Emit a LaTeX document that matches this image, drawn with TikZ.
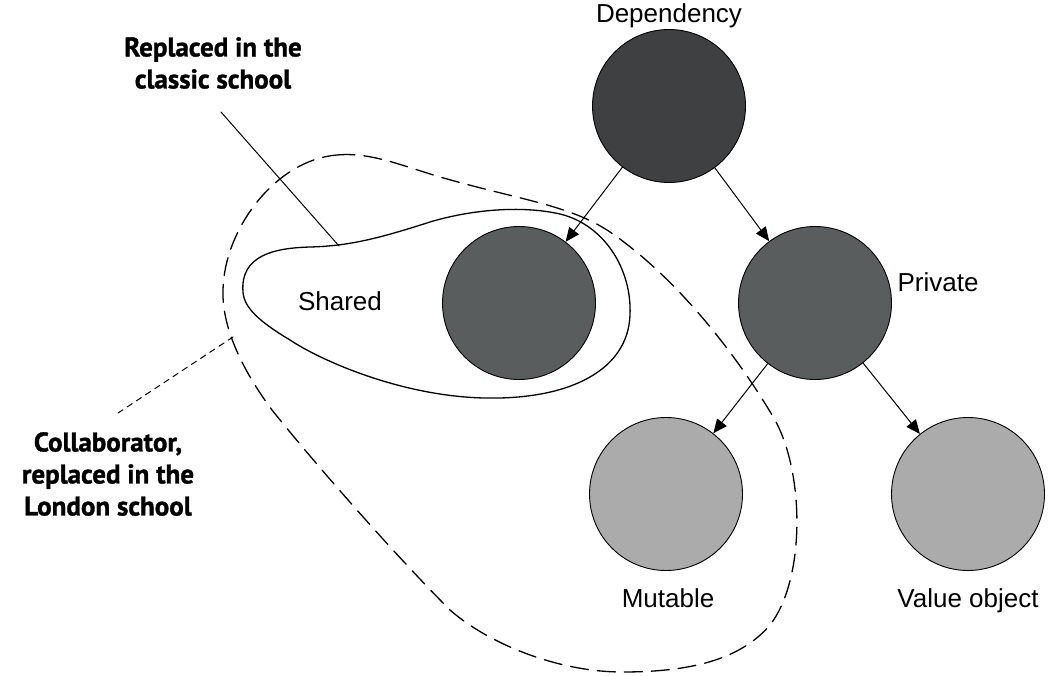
\documentclass[tikz,border=0pt]{standalone}
\usepackage{fontspec}
\setmainfont{Liberation Sans}
\newfontfamily\notefont{PT Sans}[BoldFeatures={FakeBold=1.2}]
\usetikzlibrary{arrows.meta}
\definecolor{topgray}{HTML}{3F4042}
\definecolor{midgray}{HTML}{5A5D5E}
\definecolor{lowgray}{HTML}{AAABAA}
\begin{document}
\begin{tikzpicture}[x=1pt,y=-1pt,line join=round,line cap=round,>={Triangle[length=14pt,width=12pt]},
  ball/.style={circle,draw,line width=0.9pt,minimum size=153pt,inner sep=0pt},
  tag/.style={font=\fontsize{26}{31}\selectfont,inner sep=0pt,anchor=base},
  note/.style={font=\notefont\bfseries\fontsize{27}{32}\selectfont,align=center,inner sep=0pt},
  link/.style={->,line width=1pt}]
\useasboundingbox (0,0) rectangle (1062,676);
\node[ball,fill=topgray] (dep) at (669,106) {};
\node[ball,fill=midgray] (shared) at (519,303) {};
\node[ball,fill=midgray] (priv) at (815,303) {};
\node[ball,fill=lowgray] (mut) at (666,494) {};
\node[ball,fill=lowgray] (val) at (968,494) {};
\node[tag] (deplabel) at (669,23) {Dependency};
\node[tag] (sharedlabel) at (340,310) {Shared};
\node[tag] (privlabel) at (938,291) {Private};
\node[tag] (mutlabel) at (668,607) {Mutable};
\node[tag] (vallabel) at (968,607) {Value object};
\draw[link] (dep) -- (shared);
\draw[link] (dep) -- (priv);
\draw[link] (priv) -- (mut);
\draw[link] (priv) -- (val);
% shared blob and the larger collaborator blob
\draw[line width=1.3pt] (243,292) .. controls (240,255) and (275,248) .. (310,247)
  .. controls (350,246) and (380,238) .. (430,222) .. controls (470,210) and (520,205) .. (560,214)
  .. controls (605,225) and (632,270) .. (630,315) .. controls (628,370) and (570,400) .. (484,398)
  .. controls (400,396) and (320,360) .. (290,340) .. controls (260,322) and (244,308) .. cycle;
\draw[line width=1.3pt,dash pattern=on 18pt off 9pt] (337,155) .. controls (370,152) and (400,165) .. (440,177)
  .. controls (520,200) and (570,205) .. (610,232) .. controls (680,280) and (740,360) .. (775,420)
  .. controls (805,475) and (805,580) .. (770,625) .. controls (740,660) and (690,672) .. (622,672)
  .. controls (560,672) and (490,645) .. (450,610) .. controls (400,560) and (320,470) .. (272,410)
  .. controls (235,360) and (222,320) .. (223,290) .. controls (224,230) and (275,160) .. cycle;
\coordinate (sharedtip) at (339,246);
\coordinate (collabtip) at (233,337);
\node[note] (classic) at (213,63) {Replaced in the\\classic school};
\node[note] (london) at (108,474) {Collaborator,\\replaced in the\\London school};
\draw[line width=1pt] (221,112) -- (sharedtip);
\draw[line width=1pt,dash pattern=on 6pt off 5pt] (118,413) -- (collabtip);
\end{tikzpicture}
\end{document}
